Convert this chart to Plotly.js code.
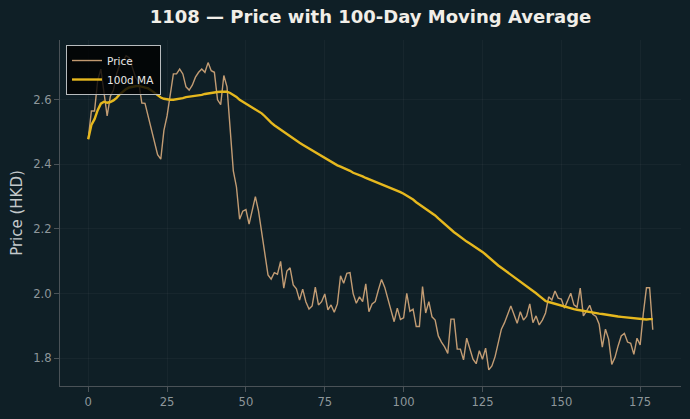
<!DOCTYPE html>
<html>
<head>
<meta charset="utf-8">
<script src="https://cdn.plot.ly/plotly-3.0.1.min.js"></script>
<style>
  html, body { margin: 0; padding: 0; background: #0f1f26; }
  #chart { width: 690px; height: 419px; }
</style>
</head>
<body>
<div id="chart"></div>
<script>
// Daily closing price of 1108 (HKD), trading-day index 0..179
const price = [
  2.478, 2.565, 2.565, 2.660, 2.695, 2.615, 2.550, 2.610, 2.630, 2.680,
  2.710, 2.720, 2.736, 2.730, 2.700, 2.670, 2.655, 2.590, 2.589, 2.550,
  2.510, 2.465, 2.430, 2.416, 2.505, 2.550, 2.620, 2.680, 2.680, 2.695,
  2.680, 2.640, 2.630, 2.645, 2.670, 2.685, 2.695, 2.685, 2.715, 2.690,
  2.685, 2.600, 2.585, 2.675, 2.640, 2.520, 2.380, 2.330, 2.230, 2.255,
  2.260, 2.215, 2.255, 2.300, 2.255, 2.190, 2.120, 2.058, 2.045, 2.065,
  2.060, 2.100, 2.017, 2.070, 2.080, 2.027, 2.015, 1.980, 2.014, 1.975,
  1.952, 1.962, 2.020, 1.965, 1.975, 1.999, 1.950, 1.965, 1.942, 1.968,
  2.055, 2.032, 2.063, 2.065, 2.000, 1.970, 1.990, 1.975, 2.030, 1.944,
  1.968, 1.975, 2.011, 2.044, 2.020, 1.985, 1.955, 1.913, 1.955, 1.920,
  1.925, 2.001, 1.945, 1.952, 1.898, 1.898, 2.022, 1.940, 1.975, 1.928,
  1.918, 1.869, 1.850, 1.835, 1.815, 1.921, 1.921, 1.828, 1.828, 1.795,
  1.862, 1.826, 1.797, 1.783, 1.823, 1.797, 1.831, 1.764, 1.776, 1.805,
  1.846, 1.890, 1.910, 1.935, 1.962, 1.935, 1.908, 1.944, 1.918, 1.930,
  1.968, 1.910, 1.931, 1.903, 1.918, 1.940, 1.990, 1.980, 2.008, 1.986,
  1.983, 1.955, 1.976, 2.001, 1.965, 1.958, 2.017, 1.931, 1.946, 1.964,
  1.936, 1.929, 1.905, 1.834, 1.890, 1.859, 1.781, 1.802, 1.838, 1.869,
  1.877, 1.850, 1.846, 1.812, 1.862, 1.841, 1.938, 2.018, 2.018, 1.888
];

// 100-day moving average of the close (shorter window at the start)
const ma100 = [
  2.478, 2.522, 2.540, 2.568, 2.588, 2.594, 2.591, 2.593, 2.598, 2.606,
  2.617, 2.626, 2.633, 2.638, 2.641, 2.642, 2.643, 2.641, 2.639, 2.635,
  2.629, 2.622, 2.614, 2.607, 2.603, 2.601, 2.600, 2.600, 2.601, 2.603,
  2.605, 2.608, 2.609, 2.610, 2.611, 2.613, 2.615, 2.618, 2.620, 2.622,
  2.624, 2.624, 2.625, 2.625, 2.625, 2.621, 2.616, 2.609, 2.600, 2.594,
  2.588, 2.582, 2.576, 2.570, 2.565, 2.558, 2.549, 2.538, 2.529, 2.521,
  2.514, 2.507, 2.500, 2.494, 2.488, 2.481, 2.474, 2.467, 2.461, 2.455,
  2.449, 2.443, 2.437, 2.431, 2.425, 2.419, 2.413, 2.407, 2.402, 2.397,
  2.393, 2.389, 2.385, 2.380, 2.374, 2.371, 2.367, 2.363, 2.358, 2.354,
  2.350, 2.346, 2.343, 2.339, 2.336, 2.332, 2.328, 2.324, 2.319, 2.314,
  2.309, 2.303, 2.298, 2.291, 2.283, 2.276, 2.269, 2.263, 2.257, 2.250,
  2.242, 2.233, 2.224, 2.215, 2.206, 2.197, 2.190, 2.183, 2.175, 2.168,
  2.161, 2.155, 2.149, 2.142, 2.136, 2.129, 2.121, 2.112, 2.103, 2.094,
  2.087, 2.080, 2.073, 2.066, 2.059, 2.052, 2.044, 2.037, 2.030, 2.022,
  2.015, 2.008, 2.001, 1.993, 1.985, 1.977, 1.974, 1.971, 1.969, 1.966,
  1.962, 1.959, 1.957, 1.954, 1.952, 1.950, 1.948, 1.946, 1.944, 1.943,
  1.941, 1.940, 1.938, 1.937, 1.935, 1.933, 1.931, 1.930, 1.929, 1.928,
  1.927, 1.926, 1.925, 1.923, 1.922, 1.920, 1.920, 1.920, 1.921, 1.921
];

const days = price.map((_, i) => i);

const xTicks = [0, 25, 50, 75, 100, 125, 150, 175];
const yTicks = [1.8, 2.0, 2.2, 2.4, 2.6];

const bg = '#0f1f26';
const axisColor = '#4a5257';
const tickFontColor = '#8e979b';

const traces = [
  {
    x: days, y: price, type: 'scatter', mode: 'lines', name: 'Price',
    line: { color: 'rgba(214,170,124,0.9)', width: 1.4 }
  },
  {
    x: days, y: ma100, type: 'scatter', mode: 'lines', name: '100d MA',
    line: { color: '#e6b81e', width: 2.4 }
  }
];

const layout = {
  width: 690, height: 419,
  margin: { l: 60, r: 9, t: 40, b: 33 },
  paper_bgcolor: bg,
  plot_bgcolor: bg,
  font: { family: 'DejaVu Sans', color: tickFontColor },
  title: {
    text: '1108 — Price with 100-Day Moving Average',
    font: { family: 'DejaVu Sans', size: 18, weight: 'bold', color: '#f1eee8' },
    x: 0.537, xanchor: 'center', xref: 'container',
    y: 0.959, yanchor: 'middle', yref: 'container'
  },
  xaxis: {
    range: [-8.95, 187.95],
    tickvals: xTicks,
    ticktext: xTicks.map(String),
    ticks: 'outside', ticklen: 5, tickwidth: 1, tickcolor: axisColor,
    tickfont: { size: 11.6, color: tickFontColor },
    showline: true, linecolor: axisColor, linewidth: 1, mirror: false,
    showgrid: true, gridcolor: 'rgba(255,255,255,0.045)', gridwidth: 0.8,
    zeroline: false
  },
  yaxis: {
    range: [1.714, 2.785],
    tickvals: yTicks,
    ticktext: yTicks.map(v => v.toFixed(1)),
    ticks: 'outside', ticklen: 5, tickwidth: 1, tickcolor: axisColor,
    tickfont: { size: 11.6, color: tickFontColor },
    showline: true, linecolor: axisColor, linewidth: 1, mirror: false,
    showgrid: true, gridcolor: 'rgba(255,255,255,0.045)', gridwidth: 0.8,
    zeroline: false,
    title: {
      text: 'Price (HKD)',
      font: { family: 'DejaVu Sans', size: 15, color: '#c3c9cb' },
      standoff: 6
    }
  },
  showlegend: true,
  legend: {
    x: 0.0097, y: 0.9855, xanchor: 'left', yanchor: 'top',
    bgcolor: 'rgba(0,0,0,0.8)',
    bordercolor: '#b8bcbe', borderwidth: 1,
    font: { family: 'DejaVu Sans', size: 10.5, color: '#e8e8e8' },
    itemwidth: 30, tracegroupgap: 0
  }
};

Plotly.newPlot('chart', traces, layout, { staticPlot: true, displayModeBar: false });
</script>
</body>
</html>
